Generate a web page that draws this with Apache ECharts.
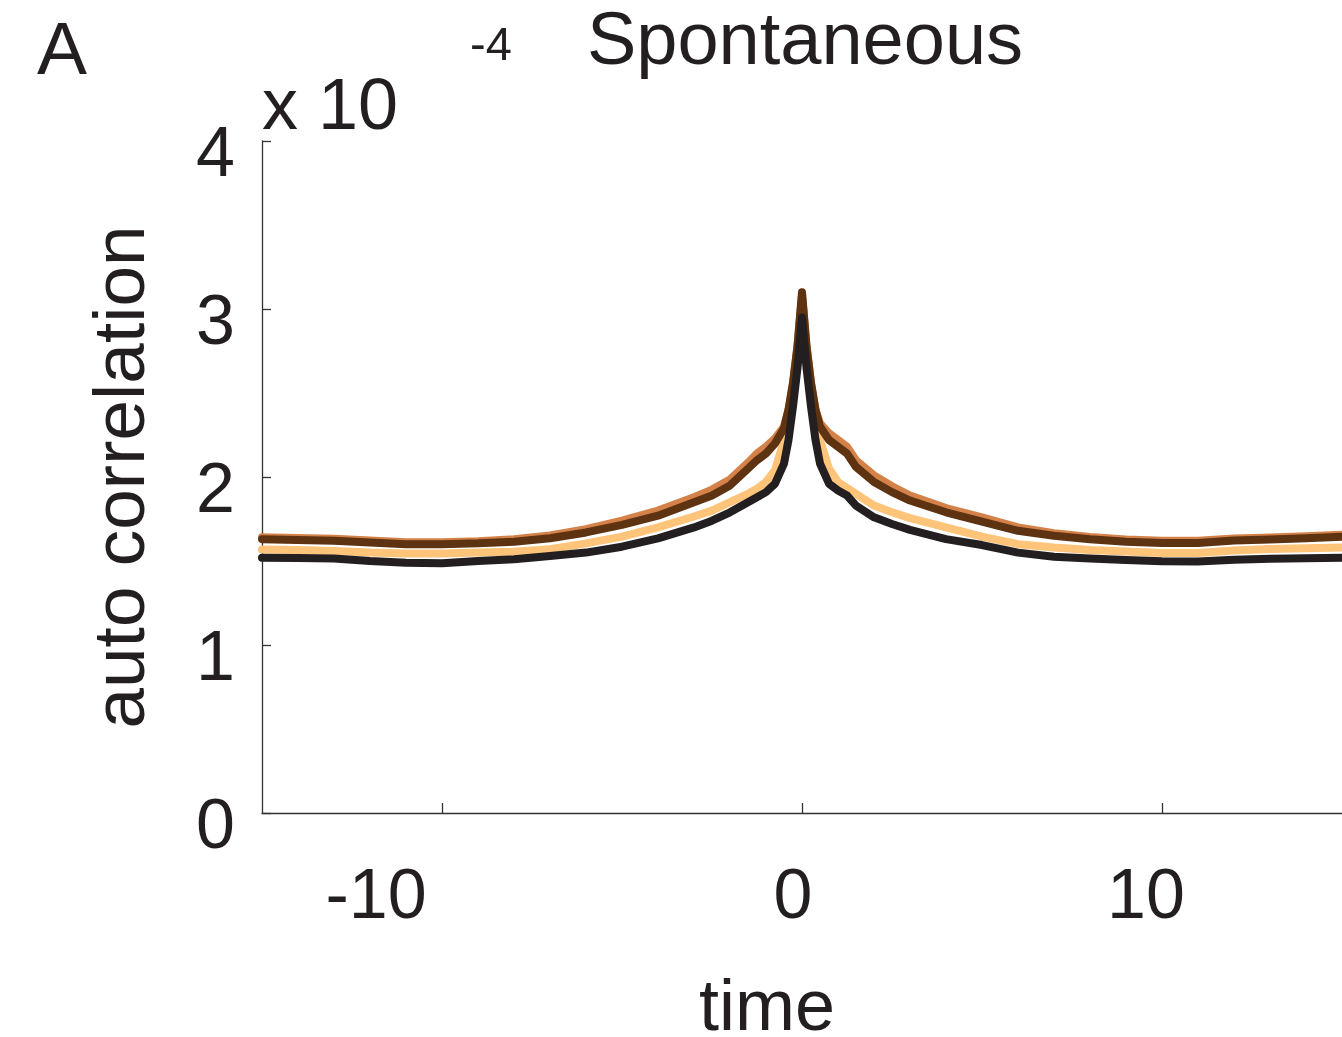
<!DOCTYPE html>
<html>
<head>
<meta charset="utf-8">
<script src="https://cdn.jsdelivr.net/npm/echarts@6/dist/echarts.min.js"></script>
<style>
html,body{margin:0;padding:0;background:#fff;}
#chart{width:1342px;height:1037px;}
</style>
</head>
<body>
<div id="chart"></div>
<script>
// time lags
var timeLags = [-15,-14,-13,-12,-11,-10,-9,-8,-7,-6,-5,-4,-3,-2.5,-2,-1.5,-1.25,-1,-0.75,-0.5,-0.375,-0.25,-0.125,0,
  0.125,0.25,0.375,0.5,0.75,1,1.25,1.5,2,2.5,3,4,5,6,7,8,9,10,11,12,13,14,15];

// auto correlation (x 10^-4)
var lightOrange = [1.568,1.565,1.56,1.55,1.545,1.545,1.55,1.555,1.57,1.605,1.645,1.70,1.765,1.80,1.85,1.90,1.93,1.97,2.04,2.22,2.36,2.52,2.72,3.00,
  2.72,2.52,2.36,2.22,2.05,1.97,1.935,1.90,1.83,1.79,1.755,1.70,1.645,1.60,1.58,1.565,1.557,1.548,1.548,1.562,1.572,1.576,1.58];

var orangeBrown = [1.642,1.637,1.632,1.622,1.612,1.612,1.618,1.63,1.652,1.69,1.74,1.80,1.88,1.925,1.985,2.085,2.14,2.18,2.23,2.30,2.40,2.56,2.78,3.08,
  2.78,2.56,2.40,2.32,2.26,2.22,2.18,2.10,2.01,1.945,1.89,1.815,1.76,1.70,1.665,1.643,1.628,1.62,1.62,1.634,1.64,1.647,1.657];

var darkBrown = [1.63,1.625,1.62,1.61,1.60,1.60,1.605,1.615,1.635,1.67,1.715,1.77,1.85,1.89,1.95,2.05,2.10,2.14,2.20,2.29,2.40,2.56,2.78,3.10,
  2.78,2.56,2.40,2.30,2.22,2.18,2.14,2.06,1.97,1.91,1.86,1.79,1.735,1.68,1.65,1.63,1.615,1.607,1.607,1.622,1.628,1.635,1.645];

var black = [1.52,1.518,1.515,1.50,1.49,1.487,1.50,1.51,1.53,1.55,1.585,1.635,1.70,1.74,1.79,1.85,1.88,1.91,1.96,2.08,2.22,2.42,2.65,2.95,
  2.65,2.42,2.22,2.08,1.96,1.92,1.89,1.83,1.76,1.72,1.685,1.63,1.595,1.55,1.525,1.515,1.506,1.498,1.497,1.508,1.514,1.517,1.52];

var xTicks = [-10, 0, 10];
var yTicks = [0, 1, 2, 3, 4];

function pairs(ys){ return timeLags.map(function(t,i){ return [t, ys[i]]; }); }

var FONT = '"Liberation Sans", Arial, Helvetica, sans-serif';
var TXT = '#231F20';
var AX = '#333333';

var chart = echarts.init(document.getElementById('chart'), null, {renderer:'canvas'});

function mkSeries(name, ys, color, z){
  return {
    name: name, type: 'line', data: pairs(ys), showSymbol: false, symbol: 'none',
    smooth: false, z: z, clip: true, animation: false,
    lineStyle: {color: color, width: 8, cap: 'round', join: 'round'}
  };
}

chart.setOption({
  animation: false,
  backgroundColor: '#ffffff',
  grid: {left: 262, right: 0, top: 141, bottom: 224, containLabel: false, outerBoundsMode: 'none'},
  xAxis: {
    type: 'value', min: -15, max: 15,
    name: 'time', nameLocation: 'middle', nameGap: 161,
    nameTextStyle: {fontFamily: FONT, fontSize: 72, color: TXT, padding: [0, 70, 0, 0]},
    axisLine: {show: true, onZero: false, lineStyle: {color: AX, width: 1.3}},
    axisTick: {show: true, inside: true, length: 10, customValues: xTicks, lineStyle: {color: AX, width: 1.3}},
    axisLabel: {
      show: true, margin: 51, customValues: xTicks,
      fontFamily: FONT, fontSize: 70, color: TXT,
      formatter: function(v){
        if (v === -10) return '{m|-10}';
        if (v === 0) return '{z|0}';
        return '{p|10}';
      },
      rich: {
        m: {fontFamily: FONT, fontSize: 70, color: TXT, padding: [0, 132, 0, 0]},
        z: {fontFamily: FONT, fontSize: 70, color: TXT, padding: [0, 18, 0, 0]},
        p: {fontFamily: FONT, fontSize: 70, color: TXT, padding: [0, 32, 0, 0]}
      }
    },
    splitLine: {show: false}
  },
  yAxis: {
    type: 'value', min: 0, max: 4, interval: 1,
    name: 'auto correlation', nameLocation: 'middle', nameGap: 102, nameRotate: 90,
    nameTextStyle: {fontFamily: FONT, fontSize: 73, color: TXT},
    axisLine: {show: true, onZero: false, lineStyle: {color: AX, width: 1.3}},
    axisTick: {show: true, inside: true, length: 9, lineStyle: {color: AX, width: 1.3}},
    axisLabel: {
      show: true, margin: 27, fontFamily: FONT, fontSize: 70, color: TXT,
      lineHeight: 32, verticalAlign: 'middle',
      formatter: function(v){ return '\n' + String(v); }
    },
    splitLine: {show: false}
  },
  graphic: [
    {type: 'text', left: 37, top: 16, style: {text: 'A', font: '75px ' + FONT, fill: TXT}},
    {type: 'text', x: 805, y: 44, style: {text: 'Spontaneous', font: '74px ' + FONT, fill: TXT, align: 'center', verticalAlign: 'middle'}},
    {type: 'text', x: 262, y: 109, style: {text: 'x 10', font: '72px ' + FONT, fill: TXT, align: 'left', verticalAlign: 'middle'}},
    {type: 'text', x: 470, y: 47, style: {text: '-4', font: '47px ' + FONT, fill: TXT, align: 'left', verticalAlign: 'middle'}}
  ],
  series: [
    mkSeries('s1', lightOrange, '#FEC47A', 2),
    mkSeries('s2', orangeBrown, '#D4824A', 3),
    mkSeries('s3', darkBrown, '#5E3311', 4),
    mkSeries('s4', black, '#231F20', 5)
  ]
});
</script>
</body>
</html>
